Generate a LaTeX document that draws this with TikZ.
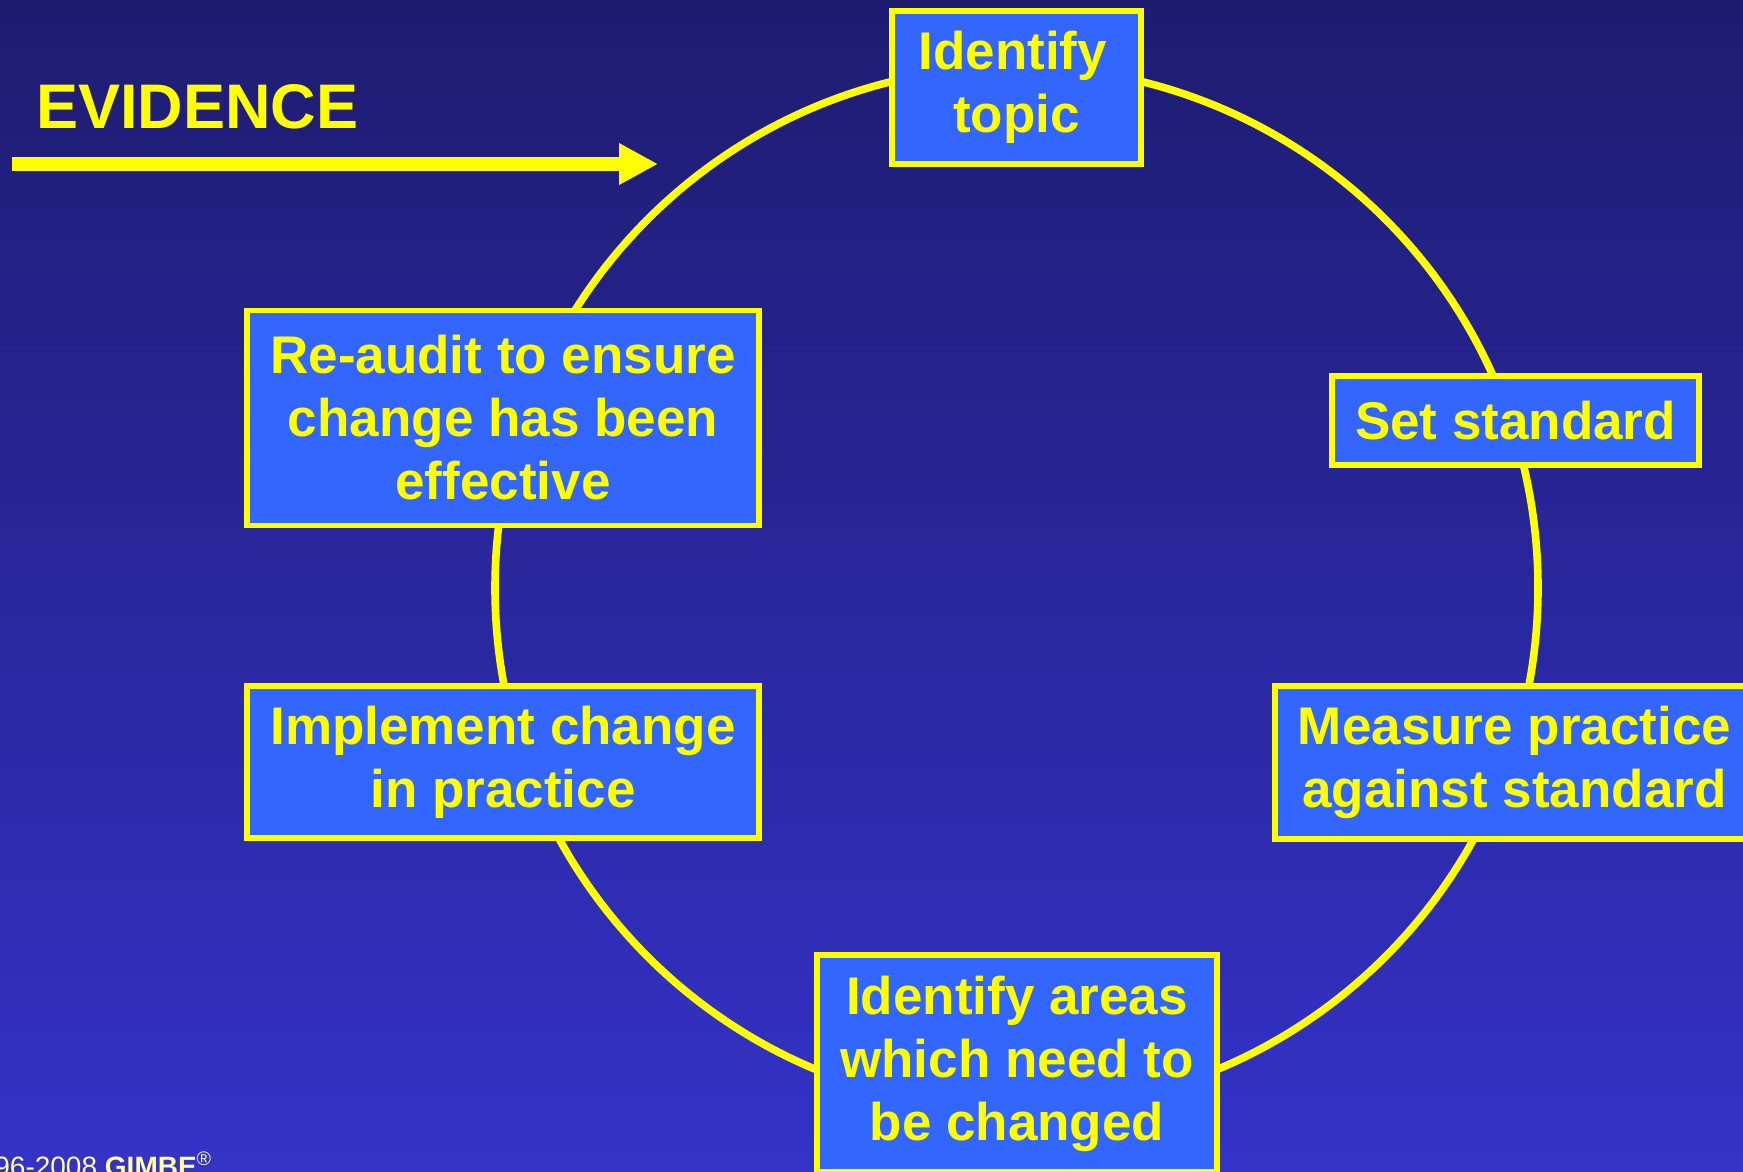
\documentclass[tikz,border=0pt]{standalone}
\usepackage{fontspec}
\setmainfont{Liberation Sans}
\usetikzlibrary{arrows.meta}
\definecolor{bgtop}{RGB}{30,28,112}
\definecolor{bgbot}{RGB}{52,50,200}
\definecolor{boxblue}{RGB}{51,102,255}
\definecolor{ylw}{RGB}{255,255,0}
\definecolor{paleylw}{RGB}{255,255,160}
\begin{document}
\begin{tikzpicture}[x=0.5pt,y=-0.5pt,
  stepbox/.style={draw=ylw, fill=boxblue, line width=2.6pt, text=ylw, align=center,
    inner sep=0pt, font=\fontsize{26.5}{31.5}\selectfont\bfseries},
  ring/.style={draw=ylw, line width=3.8pt},
  bigarrow/.style={draw=ylw, line width=7pt, -{Triangle[length=19.5pt,width=19.5pt]}},
  title/.style={anchor=base west, inner sep=0pt, text=ylw, font=\fontsize{31.5}{36}\selectfont\bfseries},
  credit/.style={anchor=base west, inner sep=0pt, text=paleylw, font=\fontsize{14}{16}\selectfont}
  ]
\path[top color=bgtop, bottom color=bgbot] (0,0) rectangle (1743,1171);
\useasboundingbox (0,0) rectangle (1743,1171);

\draw[ring] (1016.5,588) circle [radius=260.75pt];

\node[stepbox, minimum width=124.5pt, minimum height=76.5pt] (topic) at (1016.5,87.5) {Identify\kern3.7pt\\topic};
\node[stepbox, minimum width=183.5pt, minimum height=44.5pt] (setstd) at (1515.5,420.5) {Set standard};
\node[stepbox, minimum width=239.5pt, minimum height=76.5pt] (measure) at (1514.5,762.5) {Measure practice\\against standard};
\node[stepbox, minimum width=200pt, minimum height=108.5pt] (areas) at (1017,1063.5) {Identify areas\\which need to\\be changed};
\node[stepbox, minimum width=256pt, minimum height=76pt] (implement) at (503,762) {Implement change\\in practice};
\node[stepbox, minimum width=256pt, minimum height=107.5pt] (reaudit) at (503,418) {Re-audit to ensure\\change has been\\effective};

\coordinate (evS) at (12,164);
\coordinate (evE) at (658,164);
\draw[bigarrow] (evS) -- (evE);
\node[title] (evid) at (36,129) {EVIDENCE};

\node[credit] (copy) at (-6,1176) {96-2008 \textbf{GIMBE}\textsuperscript{®}};
\end{tikzpicture}
\end{document}
